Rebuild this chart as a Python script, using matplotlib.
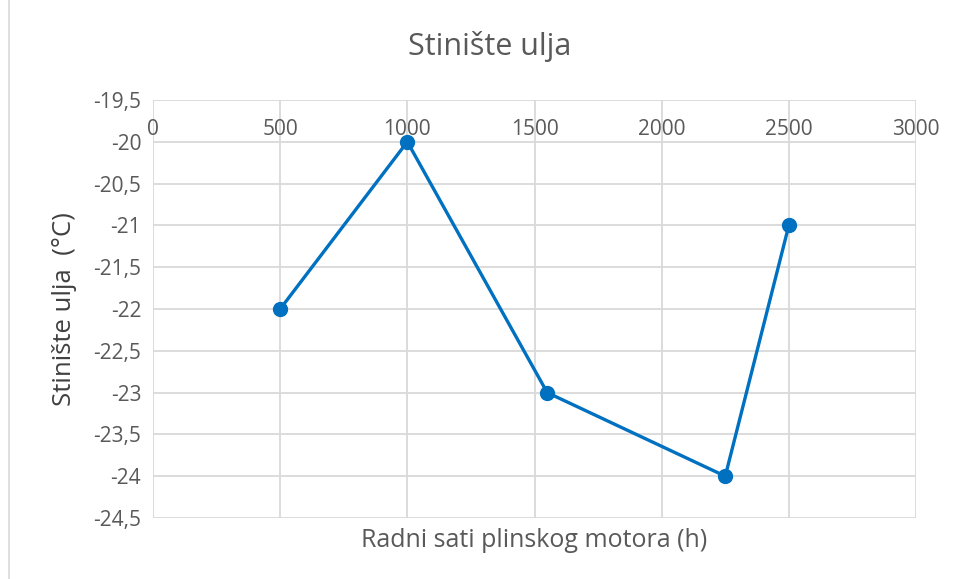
import matplotlib.pyplot as plt
from matplotlib.ticker import FuncFormatter, MultipleLocator
from matplotlib.lines import Line2D

hours = [500, 1000, 1550, 2250, 2500]
pour_point = [-22, -20, -23, -24, -21]

plt.rcParams['font.family'] = ['Open Sans', 'DejaVu Sans']
grey = '#595959'

fig = plt.figure(figsize=(9.58, 5.79), dpi=100)
ax = fig.add_axes([153 / 958, 1 - 518 / 579, (916 - 153) / 958, (518 - 100) / 579])

ax.plot(hours, pour_point, color='#0070C0', lw=2.4, marker='o', ms=10, zorder=3)

ax.set_xlim(0, 3000)
ax.set_ylim(-24.5, -19.5)
ax.xaxis.set_major_locator(MultipleLocator(500))
ax.yaxis.set_major_locator(MultipleLocator(0.5))
ax.yaxis.set_major_formatter(FuncFormatter(lambda v, p: ('%g' % v).replace('.', ',')))
ax.grid(True, color='#d9d9d9', lw=1.3)
ax.set_axisbelow(True)
for s in ax.spines.values():
    s.set_visible(False)

ax.tick_params(axis='x', bottom=False, top=False, labelbottom=False, labeltop=True,
               pad=-32, labelsize=15, labelcolor=grey)
ax.tick_params(axis='y', left=False, labelsize=15, labelcolor=grey, pad=5)

ax.set_xlabel('Radni sati plinskog motora (h)', fontsize=18, color=grey, labelpad=7)
ax.set_ylabel('Stinište ulja  (°C)', fontsize=18.5, color='#404040', labelpad=12)
fig.text(490 / 958, 1 - 47 / 579, 'Stinište ulja', fontsize=22,
         color=grey, ha='center', va='center')

fig.add_artist(Line2D([9 / 958, 9 / 958], [0, 1], color='#d9d9d9', lw=1.2))

fig.savefig('out.png', dpi=100)
